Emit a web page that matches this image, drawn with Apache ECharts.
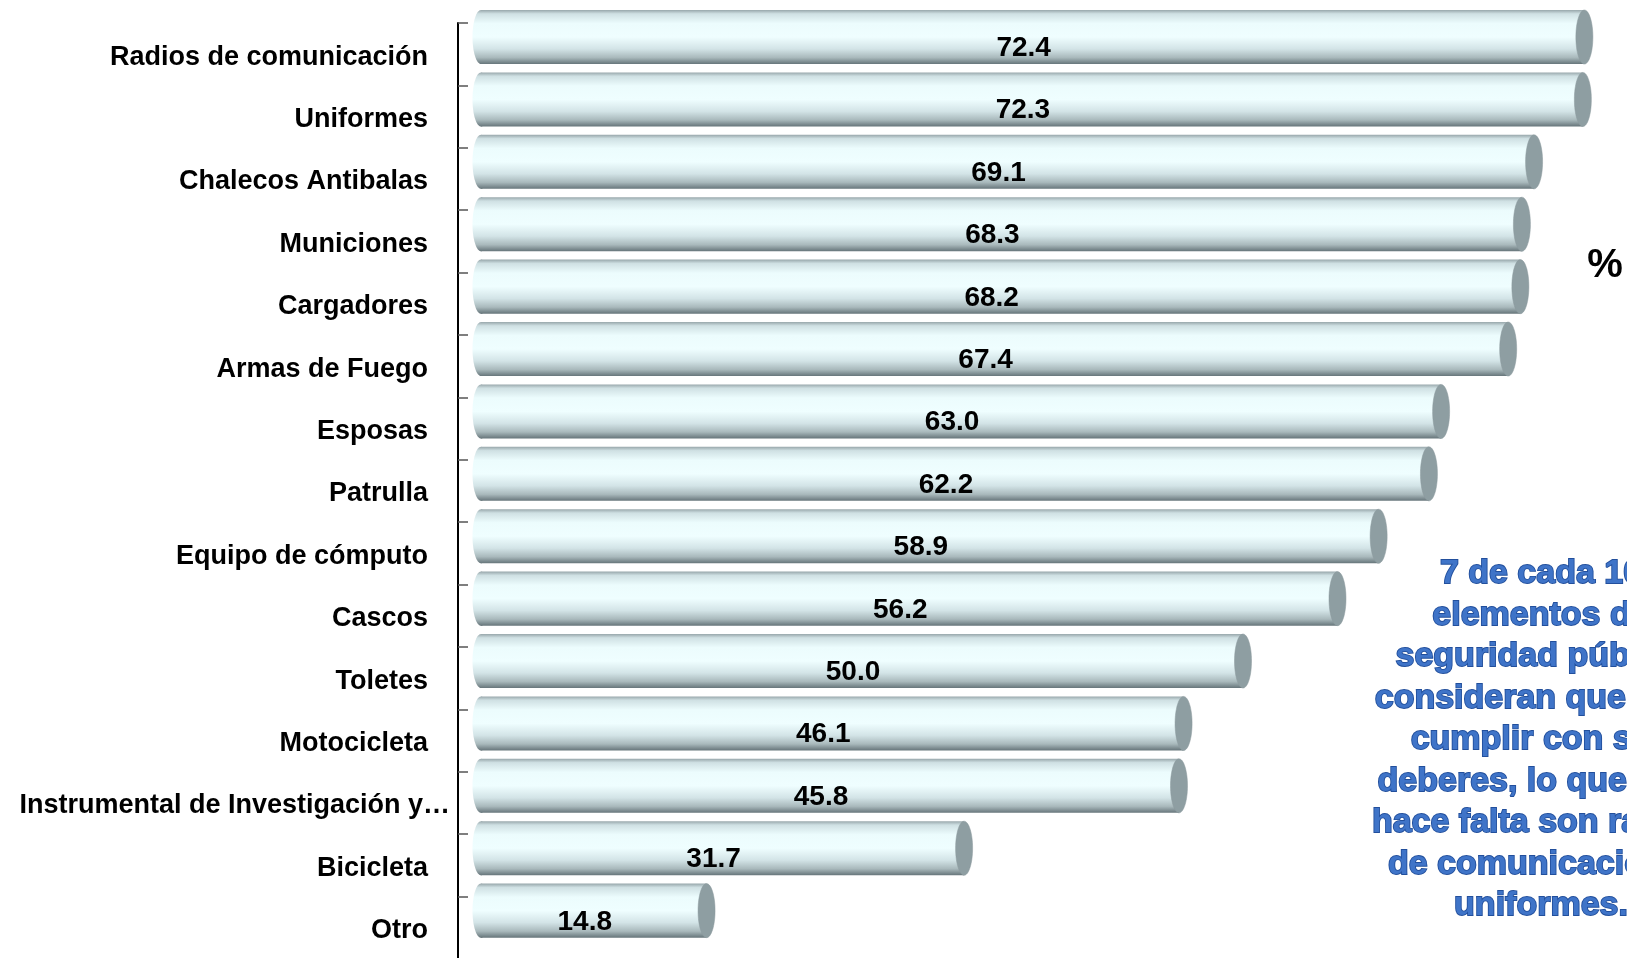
<!DOCTYPE html>
<html>
<head>
<meta charset="utf-8">
<script src="https://cdn.jsdelivr.net/npm/echarts@6/dist/echarts.min.js"></script>
<style>
  html, body { margin: 0; padding: 0; background: #ffffff; }
  #chart { width: 1627px; height: 958px; }
</style>
</head>
<body>
<div id="chart"></div>
<script>
// Equipment that police staff consider necessary (%)
const categories = [
  'Radios de comunicación',
  'Uniformes',
  'Chalecos Antibalas',
  'Municiones',
  'Cargadores',
  'Armas de Fuego',
  'Esposas',
  'Patrulla',
  'Equipo de cómputo',
  'Cascos',
  'Toletes',
  'Motocicleta',
  'Instrumental de Investigación y…',
  'Bicicleta',
  'Otro'
];
const values = [72.4, 72.3, 69.1, 68.3, 68.2, 67.4, 63.0, 62.2, 58.9, 56.2, 50.0, 46.1, 45.8, 31.7, 14.8];

// the long category name overflows its slot and is set further right
const longLabelIndex = 12;

const unitLabel = '%';
const noteLines = [
  '7 de cada 10',
  'elementos de',
  'seguridad pública',
  'consideran que para',
  'cumplir con sus',
  'deberes, lo que más',
  'hace falta son radios',
  'de comunicación y',
  'uniformes.'
];

const chart = echarts.init(document.getElementById('chart'), null, { renderer: 'canvas' });

const labelFont = '"Liberation Sans", Arial, sans-serif';

// cylinder body shading, top to bottom
const bodyGradient = () => new echarts.graphic.LinearGradient(0, 0, 0, 1, [
  { offset: 0.00, color: '#98a7ab' },
  { offset: 0.07, color: '#cfe0e3' },
  { offset: 0.25, color: '#ecfcfd' },
  { offset: 0.50, color: '#effeff' },
  { offset: 0.72, color: '#d3e4e7' },
  { offset: 0.88, color: '#a9b9bc' },
  { offset: 1.00, color: '#66757a' }
]);

function renderCylinder(params, api) {
  const idx = api.value(0);
  const v = api.value(1);
  const start = api.coord([0, idx]);
  const end = api.coord([v, idx]);
  const band = api.size([0, 1])[1];
  const h = band * 0.866;
  const cy = start[1] - band * 0.275;
  const top = cy - h / 2;
  const rx = 8.5;
  const ry = h / 2;
  const x0 = start[0];
  const x1 = end[0];
  return {
    type: 'group',
    children: [
      {
        type: 'ellipse',
        shape: { cx: x0, cy: cy, rx: rx, ry: ry },
        style: { fill: bodyGradient() }
      },
      {
        type: 'rect',
        shape: { x: x0, y: top, width: x1 - x0, height: h },
        style: { fill: bodyGradient() }
      },
      {
        type: 'ellipse',
        shape: { cx: x1, cy: cy, rx: rx, ry: ry },
        style: { fill: '#8e9ea2', stroke: '#8a999d', lineWidth: 0.5 }
      },
      {
        type: 'text',
        x: (x0 + x1) / 2 - 9,
        y: start[1] - 6,
        style: {
          text: v.toFixed(1),
          fill: '#000000',
          font: 'bold 28px ' + labelFont,
          textAlign: 'center',
          textVerticalAlign: 'middle'
        }
      }
    ]
  };
}

// category names sit slightly below the band centre
const labelRich = {
  c: {
    color: '#000000',
    fontFamily: labelFont,
    fontWeight: 'bold',
    fontSize: 27,
    padding: [6, 0, 0, 0]
  }
};

chart.setOption({
  backgroundColor: '#ffffff',
  animation: false,
  grid: { left: 481, right: 3, top: 23, height: 936, containLabel: false, outerBoundsMode: 'none' },
  xAxis: {
    type: 'value',
    min: 0,
    max: 75,
    show: false
  },
  yAxis: [
    {
      type: 'category',
      data: categories,
      inverse: true,
      position: 'left',
      offset: 23,
      axisLine: { show: true, onZero: false, lineStyle: { color: '#000000', width: 2 } },
      axisTick: { show: true, inside: true, length: 10, lineStyle: { color: '#555555', width: 1.5 } },
      axisLabel: {
        margin: 30,
        formatter: (val, i) => (i === longLabelIndex ? '' : '{c|' + val + '}'),
        rich: labelRich
      },
      splitLine: { show: false }
    },
    {
      type: 'category',
      data: categories,
      inverse: true,
      position: 'left',
      offset: 23,
      axisLine: { show: false, onZero: false },
      axisTick: { show: false },
      axisLabel: {
        margin: 8,
        formatter: (val, i) => (i === longLabelIndex ? '{c|' + val + '}' : ''),
        rich: labelRich
      },
      splitLine: { show: false }
    }
  ],
  series: [{
    type: 'custom',
    renderItem: renderCylinder,
    data: values.map((v, i) => [i, v]),
    encode: { x: 1, y: 0 },
    clip: false
  }],
  graphic: [
    {
      type: 'text',
      x: 1605,
      y: 266,
      style: {
        text: unitLabel,
        fill: '#000000',
        font: 'bold 40px ' + labelFont,
        textAlign: 'center',
        textVerticalAlign: 'middle'
      }
    },
    {
      type: 'text',
      x: 1541,
      y: 740,
      style: {
        text: noteLines.join('\n'),
        fill: '#3f74c8',
        stroke: '#224f9c',
        lineWidth: 1.8,
        font: 'bold 34px ' + labelFont,
        lineHeight: 41.5,
        textAlign: 'center',
        textVerticalAlign: 'middle',
        shadowColor: 'rgba(30,60,120,0.35)',
        shadowBlur: 2
      }
    }
  ]
});
</script>
</body>
</html>
